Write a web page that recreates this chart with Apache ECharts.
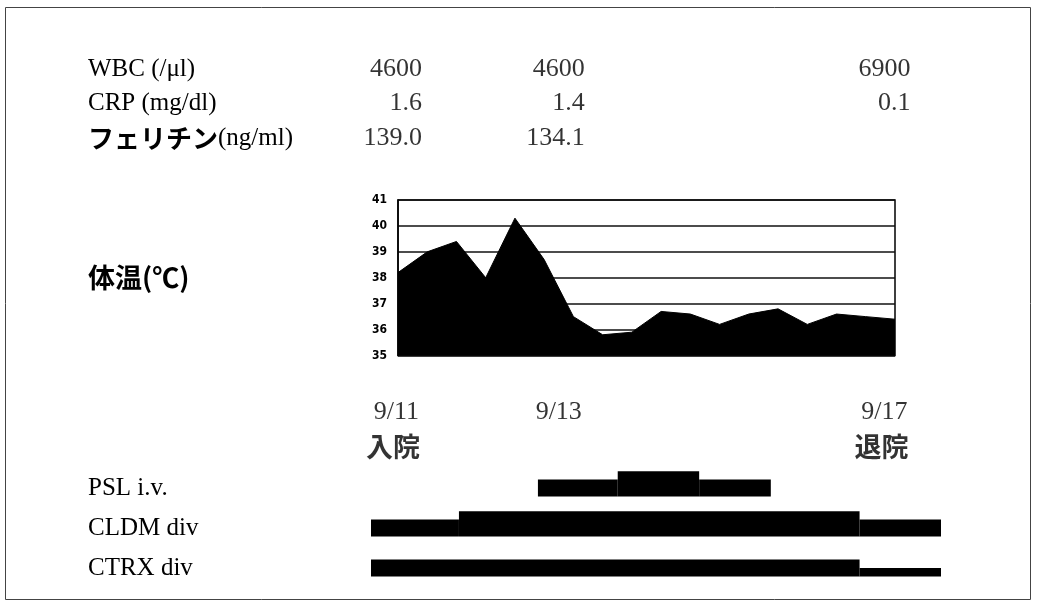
<!DOCTYPE html>
<html>
<head>
<meta charset="utf-8">
<script src="https://cdn.jsdelivr.net/npm/echarts@6/dist/echarts.min.js"></script>
<style>html,body{margin:0;padding:0;background:#fff;}#c{width:1039px;height:607px;}</style>
</head>
<body>
<div id="c"></div>
<script>
// ---- data ----
const dateLabels = ['9/11', '9/13', '9/17'];
const datePos = [0, 2, 6];
const eventLabels = ['入院', '', '退院'];
const labRows = ['WBC (/μl)', 'CRP (mg/dl)', 'フェリチン(ng/ml)'];
const wbc = [4600, 4600, 6900];
const crp = [1.6, 1.4, 0.1];
const ferritin = [139.0, 134.1, null];
const tempPoints = ['1','2','3','4','5','6','7','8','9','10','11','12','13','14','15','16','17','18'];
const temps = [38.2, 39.0, 39.4, 38.0, 40.3, 38.7, 36.5, 35.8, 35.9, 36.7, 36.6, 36.2, 36.6, 36.8, 36.2, 36.6, 36.5, 36.4];
const tempTicks = [35, 36, 37, 38, 39, 40, 41];
const drugRows = ['PSL i.v.', 'CLDM div', 'CTRX div'];
// [start day, end day, dose level]
const psl = [[2.05, 3.03, 2], [3.03, 4.03, 3], [4.03, 4.91, 2]];
const cldm = [[0, 1.08, 2], [1.08, 6.0, 3], [6.0, 7.0, 2]];
const ctrx = [[0, 6.0, 2], [6.0, 7.0, 1]];

const SERIF = "'Liberation Serif', 'Times New Roman', serif";
const JP = "'Noto Sans CJK JP', sans-serif";
const FS = 26;
const LABEL_X = 88;
function jp(s) { return s.replace(/([\u2100-\u214f\u3000-\u9fff\uff00-\uffef]+)/g, '{jp|$1}'); }
const richJP = { jp: { fontFamily: JP, fontWeight: 'bold', fontSize: FS, color: '#000' } };

const chart = echarts.init(document.getElementById('c'), null, { renderer: 'canvas' });

function drugSeries(rowIdx, segs) {
  return {
    type: 'custom', xAxisIndex: 1, yAxisIndex: 1,
    data: segs.map(s => [s[0], s[1], rowIdx, s[2]]),
    encode: { x: [0, 1], y: 2 },
    renderItem: function (params, api) {
      const p0 = api.coord([api.value(0), api.value(2)]);
      const p1 = api.coord([api.value(1), api.value(2)]);
      const band = api.size([0, 1])[1];
      const unit = band * 0.21;
      const h = api.value(3) * unit;
      const bottom = p0[1] + unit;
      return { type: 'rect', shape: { x: p0[0], y: bottom - h, width: p1[0] - p0[0], height: h }, style: { fill: '#000' } };
    }
  };
}

function labSeries(rowIdx, vals, digits) {
  return {
    type: 'scatter', xAxisIndex: 2, yAxisIndex: 2, symbolSize: 0,
    data: vals.map((v, i) => v == null ? null : [datePos[i], rowIdx, v]).filter(d => d),
    label: {
      show: true, position: 'inside', align: 'right', verticalAlign: 'middle', offset: [51, 0],
      fontFamily: SERIF, fontSize: FS, color: '#000',
      formatter: p => digits == null ? String(p.value[2]) : p.value[2].toFixed(digits)
    }
  };
}

const option = {
  animation: false,
  backgroundColor: '#fff',
  graphic: [{
    type: 'rect', shape: { x: 5.5, y: 7.5, width: 1025, height: 592 },
    style: { fill: 'none', stroke: '#444', lineWidth: 1 }, silent: true
  }],
  grid: [
    { left: 398, top: 200, width: 497, height: 155.5, show: true, borderColor: '#000', borderWidth: 1.5, backgroundColor: 'transparent' },
    { left: 371, top: 468, width: 570, height: 120 },
    { left: 371, top: 51.75, width: 570, height: 103.5 },
    { left: 371, top: 394.5, width: 570, height: 70 }
  ],
  xAxis: [
    { gridIndex: 0, type: 'category', data: tempPoints, boundaryGap: false, show: false },
    { gridIndex: 1, type: 'value', min: 0, max: 7, show: false },
    { gridIndex: 2, type: 'value', min: 0, max: 7, show: false },
    { gridIndex: 3, type: 'value', min: 0, max: 7, show: false }
  ],
  yAxis: [
    {
      gridIndex: 0, type: 'value', min: tempTicks[0], max: tempTicks[tempTicks.length - 1], interval: 1,
      axisLine: { show: true, lineStyle: { color: '#000', width: 1.5 } },
      axisTick: { show: false },
      splitLine: { show: true, lineStyle: { color: '#111', width: 1.6 } },
      axisLabel: { color: '#000', fontFamily: "'DejaVu Sans Condensed', 'Liberation Sans', Arial, sans-serif", fontWeight: 'bold', fontSize: 12, margin: 11 },
      name: '体温(℃)', nameLocation: 'middle', nameRotate: 0, nameGap: 398 - LABEL_X,
      nameTextStyle: { fontFamily: JP, fontWeight: 'bold', fontSize: 27, color: '#000', align: 'left', verticalAlign: 'middle' }
    },
    {
      gridIndex: 1, type: 'category', data: drugRows, inverse: true,
      axisLine: { show: false }, axisTick: { show: false }, splitLine: { show: false },
      axisLabel: { align: 'left', margin: 371 - LABEL_X, color: '#000', fontFamily: SERIF, fontSize: 25 }
    },
    {
      gridIndex: 2, type: 'category', data: labRows, inverse: true,
      axisLine: { show: false }, axisTick: { show: false }, splitLine: { show: false },
      axisLabel: { align: 'left', margin: 371 - LABEL_X, color: '#000', fontFamily: SERIF, fontSize: 25, formatter: v => jp(v), rich: richJP }
    },
    { gridIndex: 3, type: 'category', data: ['date', 'event'], inverse: true, show: false }
  ],
  series: [
    {
      type: 'line', xAxisIndex: 0, yAxisIndex: 0, data: temps, symbol: 'none',
      lineStyle: { color: '#000', width: 1 }, areaStyle: { color: '#000', opacity: 1 }, z: 3
    },
    drugSeries(0, psl),
    drugSeries(1, cldm),
    drugSeries(2, ctrx),
    labSeries(0, wbc, null),
    labSeries(1, crp, 1),
    labSeries(2, ferritin, 1),
    {
      type: 'scatter', xAxisIndex: 3, yAxisIndex: 3, symbolSize: 0,
      data: dateLabels.map((d, i) => [datePos[i], 0, d]),
      label: { show: true, position: 'inside', align: 'right', verticalAlign: 'middle', offset: [48, 0],
        fontFamily: SERIF, fontSize: FS, color: '#000', formatter: p => p.value[2] }
    },
    {
      type: 'scatter', xAxisIndex: 3, yAxisIndex: 3, symbolSize: 0,
      data: eventLabels.map((d, i) => d ? [datePos[i], 1, d] : null).filter(d => d),
      label: { show: true, position: 'inside', align: 'right', verticalAlign: 'middle', offset: [49, 0],
        fontFamily: JP, fontWeight: 'bold', fontSize: 27, color: '#000', formatter: p => p.value[2] }
    }
  ]
};
chart.setOption(option);
</script>
</body>
</html>
